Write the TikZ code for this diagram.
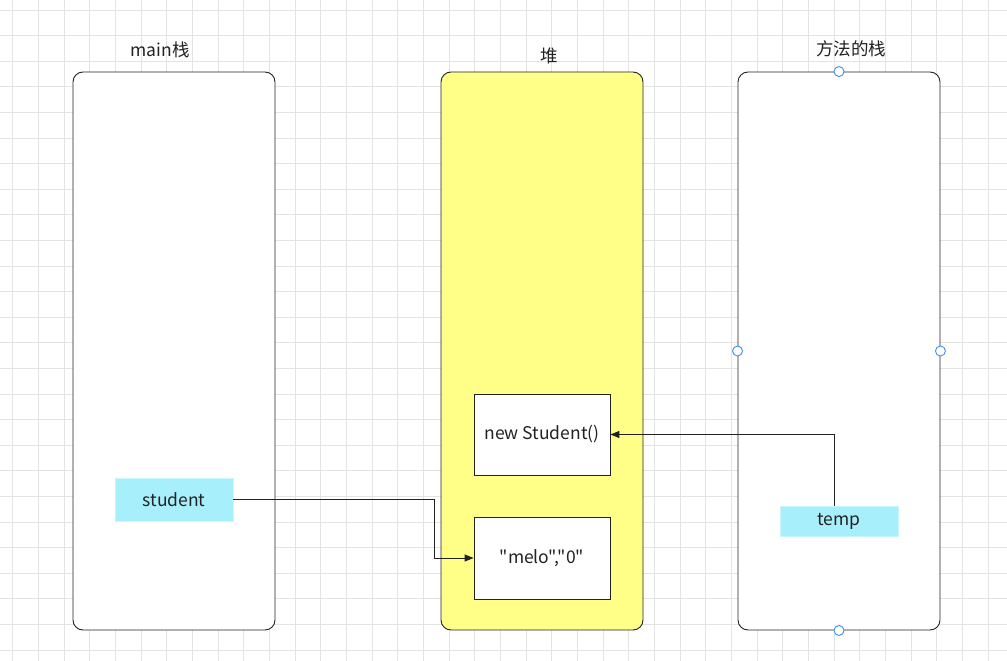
\documentclass[tikz,border=0pt]{standalone}
\usepackage{fontspec}
\setmainfont{Noto Sans CJK SC}[Ligatures=TeXOff]
\usepackage{tikz}
\usetikzlibrary{positioning,arrows.meta}

\definecolor{gridgray}{HTML}{E3E3E3}
\definecolor{heapyellow}{HTML}{FFFF88}
\definecolor{varcyan}{HTML}{A8EFFC}
\definecolor{handleblue}{HTML}{3D8FF0}
\definecolor{inkdark}{HTML}{222222}

\begin{document}
\begin{tikzpicture}[x=1pt, y=-1pt, >={Triangle[length=9pt,width=7pt]},
    every node/.style={font=\fontsize{17.5}{20}\selectfont, text=inkdark},
    stackbox/.style={draw=inkdark, line width=0.9pt, rounded corners=10pt,
                     minimum width=202pt, minimum height=558pt, inner sep=0pt},
    objbox/.style={draw=inkdark, line width=0.8pt, fill=white,
                   minimum width=136pt, minimum height=81pt, inner sep=0pt},
    varbox/.style={fill=varcyan, draw=varcyan!60!white, line width=0.5pt,
                   minimum width=118pt, inner sep=0pt},
    handle/.style={circle, draw=handleblue, fill=white, line width=0.9pt,
                   minimum size=10pt, inner sep=0pt},
    link/.style={draw=inkdark, line width=0.9pt}]

  \useasboundingbox (0,0) rectangle (1007,661);
  \fill[white] (0,0) rectangle (1007,661);

  %--- Background grid
  \foreach \gx in {0,...,38}
    \draw[gridgray, line width=0.9pt] ({12.7+25.67*\gx},0) -- ({12.7+25.67*\gx},661);
  \foreach \gy in {0,...,25}
    \draw[gridgray, line width=0.9pt] (0,{10+25.6*\gy}) -- (1007,{10+25.6*\gy});

  %--- The three memory areas
  \node[stackbox, fill=white]      (mainstack)   at (174,351) {};
  \node[stackbox, fill=heapyellow] (heap)        at (542,351) {};
  \node[stackbox, fill=white]      (methodstack) at (839,351) {};

  \node (mainlabel)   at (160,50) {main栈};
  \node (heaplabel)   at (549,56) {堆};
  \node (methodlabel) at (851,49) {方法的栈};

  %--- Objects on the heap
  \node[objbox] (newobj) at (542,434.5) {new Student()};
  \node[objbox, minimum height=82pt] (fields) at (542,558) {"melo","0"};

  %--- Reference variables
  \node[varbox, minimum height=43pt] (student) at (174,499.5) {student};
  \node[varbox, minimum height=30pt] (temp)    at (839,521) {temp};

  %--- References
  \draw[link, ->] (student.east) -- ([xshift=-39pt]fields.west |- student.east)
    |- (fields.west);
  \draw[link, ->] ([xshift=-5pt]temp.north) |- (newobj.east);

  %--- Selection handles
  \node[handle] (htop)    at (methodstack.north) {};
  \node[handle] (hleft)   at (methodstack.west)  {};
  \node[handle] (hright)  at (methodstack.east)  {};
  \node[handle] (hbottom) at (methodstack.south) {};

\end{tikzpicture}
\end{document}
